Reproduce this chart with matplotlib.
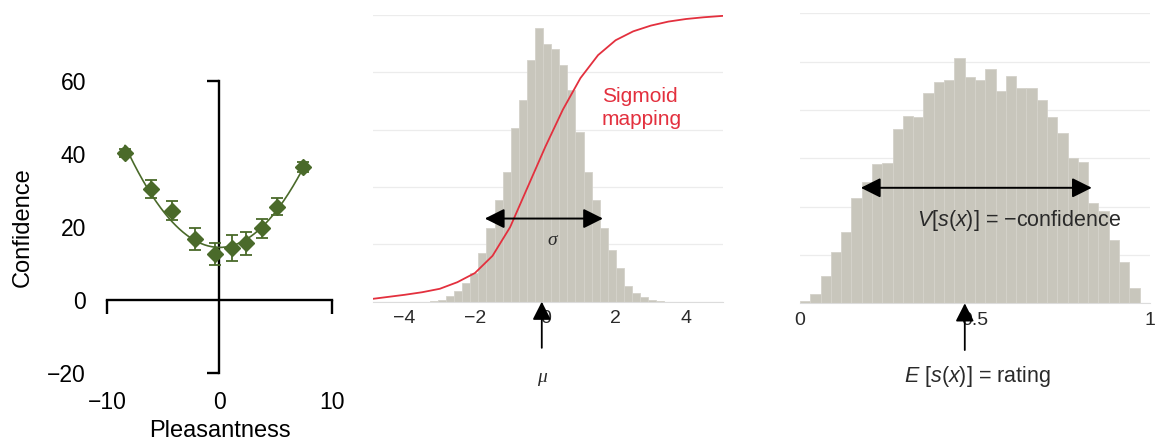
import numpy as np
import matplotlib
matplotlib.use("Agg")
import matplotlib.pyplot as plt

plt.rcParams["font.family"] = ["Liberation Sans", "DejaVu Sans"]
plt.rcParams["mathtext.fontset"] = "custom"
plt.rcParams["mathtext.rm"] = "Liberation Sans"
plt.rcParams["mathtext.it"] = "Liberation Sans:italic"

# left panel: confidence vs pleasantness (mean +- sem)
pleasantness = [-8.4, -6.1, -4.25, -2.2, -0.4, 1.15, 2.4, 3.8, 5.1, 7.4]
confidence = [40.3, 30.5, 24.5, 16.7, 12.7, 14.2, 15.5, 19.6, 25.6, 36.4]
confidence_err = [1.0, 2.5, 2.5, 3.0, 3.0, 3.5, 3.2, 2.5, 2.3, 1.3]

# middle panel: histogram of latent value + sigmoid mapping
latent_counts = [0.003, 0.007, 0.021, 0.036, 0.065, 0.10, 0.17, 0.257, 0.355,
                 0.454, 0.605, 0.704, 0.843, 0.954, 0.90, 0.88, 0.826, 0.739,
                 0.593, 0.454, 0.355, 0.257, 0.181, 0.117, 0.056, 0.030,
                 0.016, 0.007, 0.002]
latent_bin_start = -3.283
latent_bin_width = 0.23
sigmoid_x = [-4.9, -4.0, -3.5, -3.0, -2.5, -2.0, -1.5, -1.0, -0.5, 0.0, 0.5,
             1.0, 1.5, 2.0, 2.5, 3.0, 3.5, 4.0, 4.5, 5.05]
sigmoid_y = [0.010, 0.024, 0.033, 0.045, 0.068, 0.10, 0.16, 0.26, 0.40, 0.54,
             0.67, 0.78, 0.86, 0.912, 0.943, 0.963, 0.977, 0.986, 0.992, 0.997]
mu = -0.10
sigma_span = (-1.72, 1.64)

# right panel: histogram of sigmoid output
rating_counts = [0.04, 0.19, 0.565, 1.07, 1.48, 2.17, 2.5, 2.88, 2.91, 3.6,
                 3.88, 3.85, 4.36, 4.57, 4.62, 5.07, 4.69, 4.62, 4.85, 4.40,
                 4.71, 4.45, 4.45, 4.21, 3.86, 3.53, 3.0, 2.93, 2.07, 1.90,
                 1.32, 0.86, 0.31, 0.0]
rating_mean = 0.471
rating_span = (0.174, 0.834)

GREEN = "#4a6a2a"
BAR = "#c8c6bc"
RED = "#e3303e"
TXT = "#2a2a2a"
MINUS = "\u2212"

fig = plt.figure(figsize=(11.55, 4.41), dpi=100)

# ---- left panel ----
ax1 = fig.add_axes([0.0926, 0.1542, 0.1948, 0.6621])
coef = np.polyfit(pleasantness, confidence, 2)
xs = np.linspace(min(pleasantness), max(pleasantness), 200)
ax1.plot(xs, np.polyval(coef, xs), color=GREEN, lw=1.2, zorder=3)
ax1.errorbar(pleasantness, confidence, yerr=confidence_err, fmt="D",
             color=GREEN, ms=8, elinewidth=1.3, capsize=4, capthick=1.3,
             zorder=4)
ax1.set_xlim(-10, 10)
ax1.set_ylim(-20, 60)

# axes cross at zero, with ticks only at the ends
ax1.spines["top"].set_visible(False)
ax1.spines["right"].set_visible(False)
ax1.spines["left"].set_position(("data", 0))
ax1.spines["bottom"].set_position(("data", 0))
ax1.spines["left"].set_linewidth(1.7)
ax1.spines["bottom"].set_linewidth(1.7)
ax1.set_yticks([-20, 60])
ax1.set_xticks([-10, 10])
ax1.set_yticklabels(["", ""])
ax1.set_xticklabels(["", ""])
ax1.tick_params(axis="y", length=9, width=1.7, direction="out")
ax1.tick_params(axis="x", length=10, width=1.7, direction="out")
ax1.set_ylabel("Confidence", fontsize=17)
ax1.yaxis.set_label_coords(-0.325, 0.5)
ax1.set_xlabel("Pleasantness", fontsize=17)
ax1.xaxis.set_label_coords(0.5, -0.16)

# tick labels sit at the outer edges
sy = ax1.secondary_yaxis("left")
sy.set_yticks([-20, 0, 20, 40, 60])
sy.set_yticklabels([MINUS + "20", "0", "20", "40", "60"])
sy.spines["left"].set_visible(False)
sy.tick_params(length=0, pad=15, labelsize=16.5)
sx = ax1.secondary_xaxis("bottom")
sx.set_xticks([-10, 0, 10])
sx.set_xticklabels([MINUS + "10", "0", "10"])
sx.spines["bottom"].set_visible(False)
sx.tick_params(length=0, pad=13, labelsize=16.5)

# ---- middle panel ----
ax2 = fig.add_axes([0.3229, 0.3159, 0.3030, 0.6501])
lefts = [latent_bin_start + i * latent_bin_width for i in range(len(latent_counts))]
ax2.bar(lefts, latent_counts, width=latent_bin_width, align="edge",
        color=BAR, edgecolor="#d4d2ca", linewidth=0.6, zorder=2)
ax2.plot(sigmoid_x, sigmoid_y, color=RED, lw=1.3, zorder=3)
ax2.set_xlim(-4.9, 5.05)
ax2.set_ylim(0, 1.0)
ax2.set_yticks([0, 0.2, 0.4, 0.6, 0.8, 1.0])
ax2.yaxis.grid(True, color="#ececec", lw=0.9, zorder=0)
ax2.set_axisbelow(True)
ax2.set_xticks([-4, -2, 0, 2, 4])
ax2.set_xticklabels([MINUS + "4", MINUS + "2", "0", "2", "4"])
ax2.tick_params(axis="x", length=0, pad=6, labelsize=14, labelcolor=TXT)
ax2.tick_params(axis="y", length=0, labelleft=False)
for s in ["top", "right", "left"]:
    ax2.spines[s].set_visible(False)
ax2.spines["bottom"].set_color("#dcdcdc")

ax2.annotate("", xy=(sigma_span[0], 0.29), xytext=(sigma_span[1], 0.29),
             arrowprops=dict(arrowstyle="<|-|>,head_length=0.6,head_width=0.3",
                             mutation_scale=20, color="black", lw=1.4,
                             shrinkA=0, shrinkB=0), zorder=5)
ax2.text(0.21, 0.215, "\u03c3", family="Liberation Serif", style="italic",
         fontsize=14, ha="center", va="center", color=TXT)
ax2.annotate("", xy=(mu, 0), xytext=(mu, -0.161),
             arrowprops=dict(arrowstyle="-|>,head_length=0.55,head_width=0.28",
                             mutation_scale=20, color="black", lw=1.3,
                             shrinkA=0, shrinkB=0),
             annotation_clip=False, zorder=5)
ax2.text(mu, -0.263, "\u03bc", family="Liberation Serif", style="italic",
         fontsize=14, ha="center", va="center", color=TXT, clip_on=False)
ax2.text(1.6, 0.675, "Sigmoid\nmapping", color=RED, fontsize=15,
         ha="left", va="center", linespacing=1.25)

# ---- right panel ----
ax3 = fig.add_axes([0.6926, 0.3122, 0.3030, 0.6576])
nb = len(rating_counts)
rl = [i / nb for i in range(nb)]
ax3.bar(rl, rating_counts, width=1 / nb, align="edge", color=BAR,
        edgecolor="#d4d2ca", linewidth=0.6, zorder=2)
ax3.set_xlim(0, 1)
ax3.set_ylim(0, 6)
ax3.set_yticks(range(7))
ax3.yaxis.grid(True, color="#ececec", lw=0.9, zorder=0)
ax3.set_axisbelow(True)
ax3.set_xticks([0, 0.5, 1])
ax3.set_xticklabels(["0", "0.5", "1"])
ax3.tick_params(axis="x", length=0, pad=6, labelsize=14, labelcolor=TXT)
ax3.tick_params(axis="y", length=0, labelleft=False)
for s in ["top", "right", "left"]:
    ax3.spines[s].set_visible(False)
ax3.spines["bottom"].set_color("#dcdcdc")

ax3.annotate("", xy=(rating_span[0], 2.39), xytext=(rating_span[1], 2.39),
             arrowprops=dict(arrowstyle="<|-|>,head_length=0.6,head_width=0.3",
                             mutation_scale=20, color="black", lw=1.4,
                             shrinkA=0, shrinkB=0), zorder=5)
ax3.text(0.335, 1.72, r"$V[s(x)]$ = " + MINUS + "confidence",
         fontsize=15.5, ha="left", va="center", color=TXT)
ax3.annotate("", xy=(rating_mean, 0), xytext=(rating_mean, -0.967),
             arrowprops=dict(arrowstyle="-|>,head_length=0.55,head_width=0.28",
                             mutation_scale=20, color="black", lw=1.3,
                             shrinkA=0, shrinkB=0),
             annotation_clip=False, zorder=5)
ax3.text(0.506, -1.505, r"$E\ [s(x)]$ = rating", fontsize=15.5, ha="center",
         va="center", color=TXT, clip_on=False)

fig.savefig("out.png", dpi=100)
